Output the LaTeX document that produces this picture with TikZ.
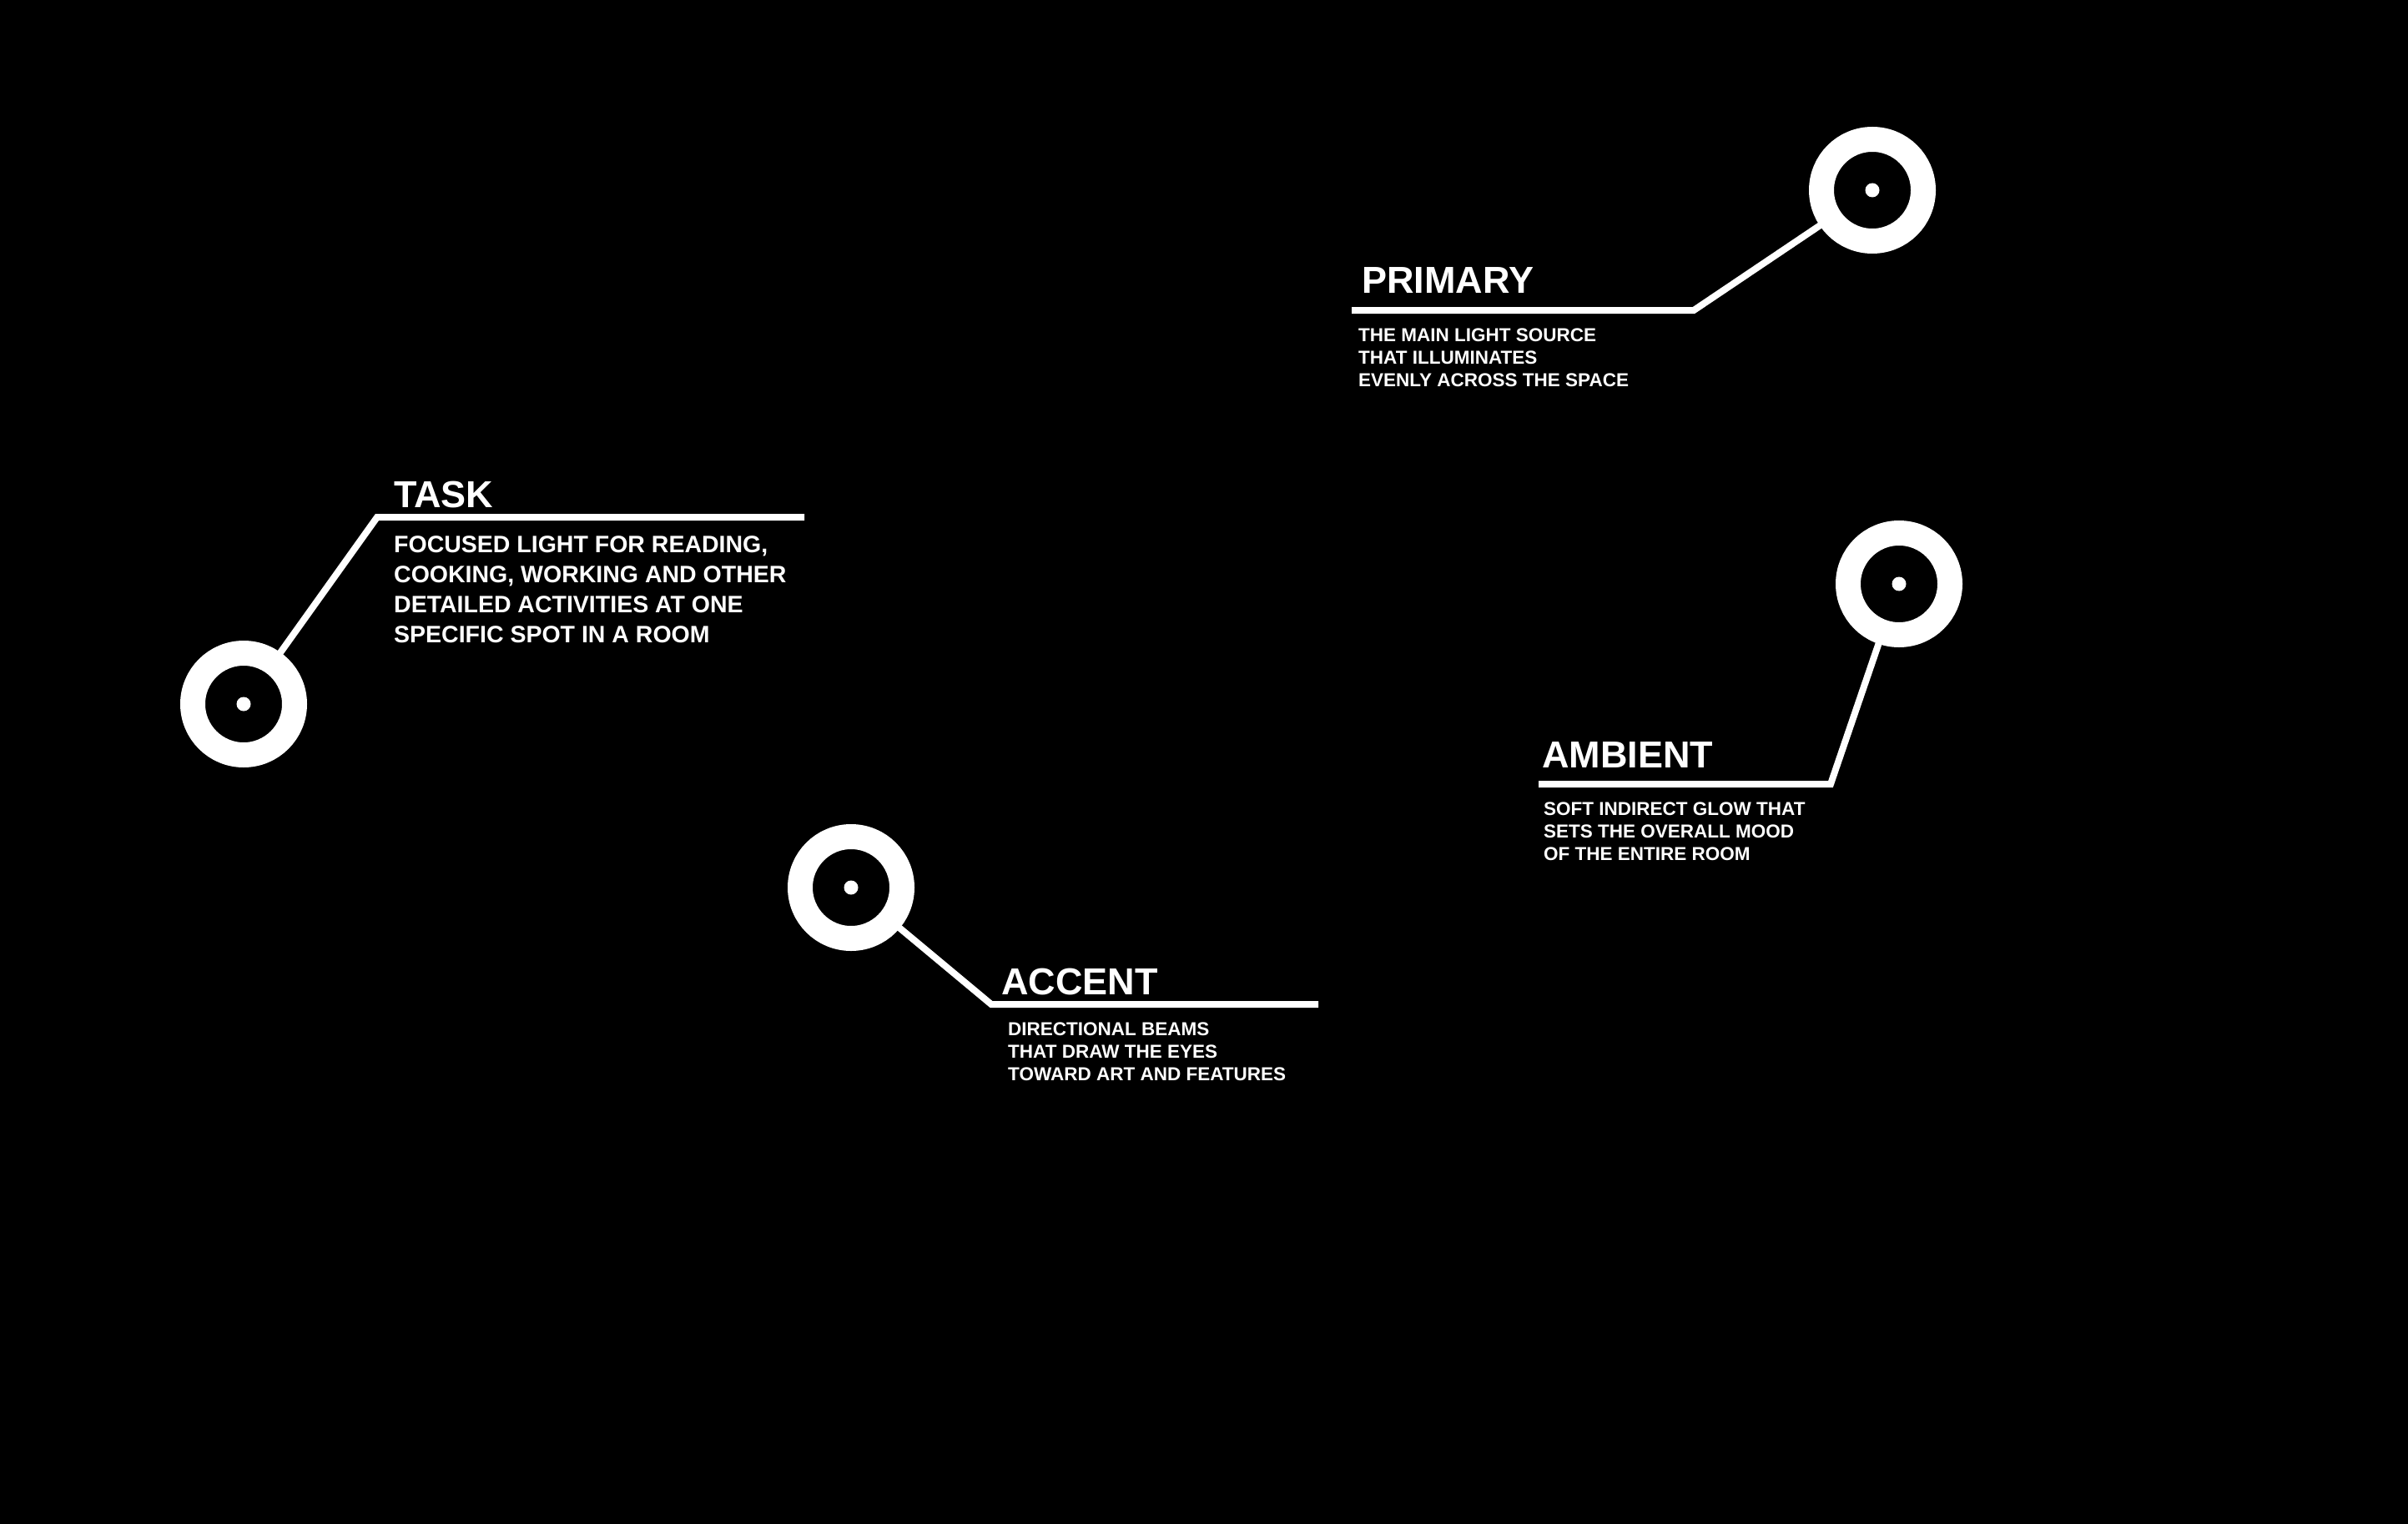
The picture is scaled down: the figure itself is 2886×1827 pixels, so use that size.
\documentclass[tikz,border=0pt]{standalone}
\usepackage{fontspec}
\setmainfont{Liberation Sans}
\begin{document}
\begin{tikzpicture}[x=1pt,y=-1pt,
  ring/.style={circle,draw=white,line width=30pt,minimum size=122pt,inner sep=0pt},
  pip/.style={circle,fill=white,minimum size=17pt,inner sep=0pt},
  leader/.style={draw=white,line width=8pt,line cap=rect},
  ttl/.style={anchor=base west,inner sep=0pt,text=white,font=\fontsize{45}{50}\selectfont\bfseries},
  bodytxt/.style={anchor=north west,inner sep=0pt,text=white,align=left,font=\fontsize{22.5}{27}\selectfont\bfseries},
  bigbody/.style={anchor=north west,inner sep=0pt,text=white,align=left,font=\fontsize{28.5}{36}\selectfont\bfseries}]
\useasboundingbox (0,0) rectangle (2886,1827);
\fill[black] (0,0) rectangle (2886,1827);

% TASK
\node[ring] (r1) at (292,844) {};
\node[pip] (d1) at (292,844) {};
\coordinate (k1) at (452,620);
\coordinate (e1) at (960,620);
\draw[leader] (r1) -- (k1) -- (e1);
\node[ttl] (t1) at (472,608) {TASK};
\node[bigbody] (b1) at (472,642) {FOCUSED LIGHT FOR READING,\\COOKING, WORKING AND OTHER\\DETAILED ACTIVITIES AT ONE\\SPECIFIC SPOT IN A ROOM};

% PRIMARY
\node[ring] (r2) at (2244,228) {};
\node[pip] (d2) at (2244,228) {};
\coordinate (k2) at (2030,372);
\coordinate (e2) at (1624,372);
\draw[leader] (r2) -- (k2) -- (e2);
\node[ttl] (t2) at (1632,352) {PRIMARY};
\node[bodytxt] (b2) at (1628,394) {THE MAIN LIGHT SOURCE\\THAT ILLUMINATES\\EVENLY ACROSS THE SPACE};

% AMBIENT
\node[ring] (r3) at (2276,700) {};
\node[pip] (d3) at (2276,700) {};
\coordinate (k3) at (2194,940);
\coordinate (e3) at (1848,940);
\draw[leader] (r3) -- (k3) -- (e3);
\node[ttl] (t3) at (1848,920) {AMBIENT};
\node[bodytxt] (b3) at (1850,962) {SOFT INDIRECT GLOW THAT\\SETS THE OVERALL MOOD\\OF THE ENTIRE ROOM};

% ACCENT
\node[ring] (r4) at (1020,1064) {};
\node[pip] (d4) at (1020,1064) {};
\coordinate (k4) at (1188,1204);
\coordinate (e4) at (1576,1204);
\draw[leader] (r4) -- (k4) -- (e4);
\node[ttl] (t4) at (1200,1192) {ACCENT};
\node[bodytxt] (b4) at (1208,1226) {DIRECTIONAL BEAMS\\THAT DRAW THE EYES\\TOWARD ART AND FEATURES};
\end{tikzpicture}
\end{document}
